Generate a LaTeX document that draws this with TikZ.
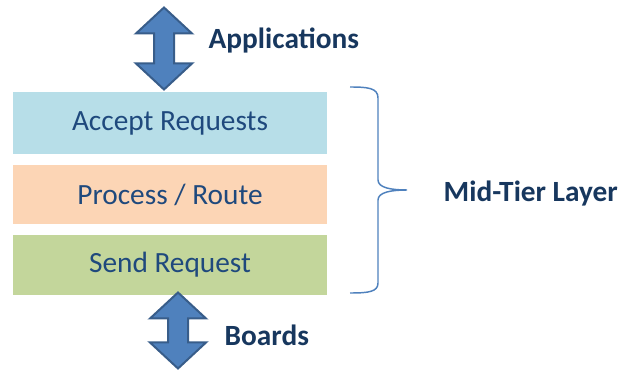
\documentclass[tikz,border=0pt]{standalone}
\usepackage{fontspec}
\setmainfont{Carlito}

\definecolor{boxtext}{RGB}{31,73,125}
\definecolor{labeltext}{RGB}{23,55,94}
\definecolor{arrowfill}{RGB}{79,129,189}
\definecolor{arrowline}{RGB}{56,93,138}
\definecolor{acceptfill}{RGB}{183,222,232}
\definecolor{processfill}{RGB}{252,213,181}
\definecolor{sendfill}{RGB}{195,214,155}

\begin{document}
\begin{tikzpicture}[x=0.75pt, y=-0.75pt,
  layerbox/.style={rectangle, minimum width=235.5pt, inner sep=0pt,
    text=boxtext, font=\fontsize{22}{26}\selectfont},
  pics/dblarrow/.style={code={
    \path[fill=arrowfill, draw=arrowline, line width=1.5pt, line join=miter]
      (0,-#1) -- (28,-#1+26) -- (10,-#1+26) -- (10,#1-26) -- (28,#1-26)
      -- (0,#1) -- (-28,#1-26) -- (-10,#1-26) -- (-10,-#1+26) -- (-28,-#1+26) -- cycle;}},
  sidelabel/.style={anchor=west, text=labeltext, font=\fontsize{22}{26}\selectfont\bfseries}]
\useasboundingbox (0,0) rectangle (622,370);
\node[layerbox, fill=acceptfill, minimum height=46.5pt] (accept) at (170,123){Accept Requests};
\node[layerbox, fill=processfill, minimum height=44.25pt] (process) at (170,194.5){Process / Route};
\node[layerbox, fill=sendfill, minimum height=45pt] (send) at (170,265){Send Request};
\pic (apparrow) at (164,48.5) {dblarrow=41};
\pic (boardarrow) at (178,330.5) {dblarrow=38};
\node[sidelabel] (apps) at (204,40){Applications};
\node[sidelabel] (boards) at (220,335){Boards};
\node[sidelabel] (midtier) at (439,194){Mid-Tier Layer};
% brace round the three layers
\draw[arrowfill, line width=1.1pt] (350,87) .. controls (368,87) and (378,88) .. (378,98)
  -- (378,180) .. controls (378,188) and (392,190) .. (407,190)
  .. controls (392,190) and (378,192) .. (378,200)
  -- (378,283) .. controls (378,292) and (368,293) .. (350,293);
\end{tikzpicture}
\end{document}
